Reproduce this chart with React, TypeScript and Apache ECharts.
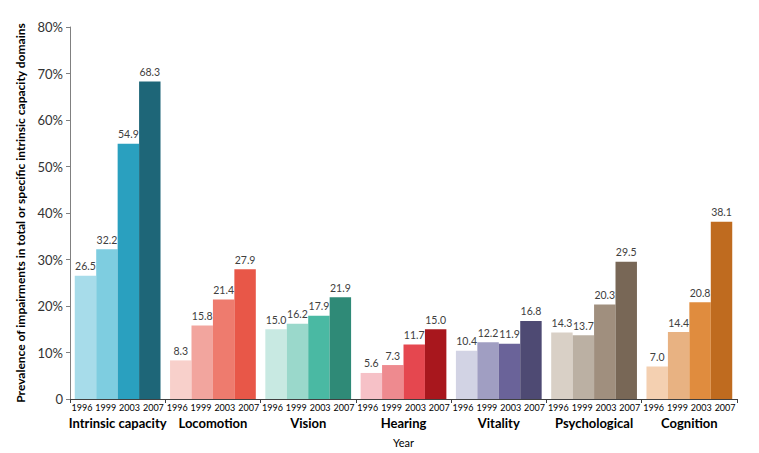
import React, { useEffect, useRef } from "react";
import * as echarts from "echarts";

const groups = ["Intrinsic capacity", "Locomotion", "Vision", "Hearing", "Vitality", "Psychological", "Cognition"];
const years = ["1996", "1999", "2003", "2007"];
const v1996 = [26.5, 8.3, 15.0, 5.6, 10.4, 14.3, 7.0];
const v1999 = [32.2, 15.8, 16.2, 7.3, 12.2, 13.7, 14.4];
const v2003 = [54.9, 21.4, 17.9, 11.7, 11.9, 20.3, 20.8];
const v2007 = [68.3, 27.9, 21.9, 15.0, 16.8, 29.5, 38.1];
const yTicks = [0, 10, 20, 30, 40, 50, 60, 70, 80];
const palette = [
  ["#a7dcea", "#7ecde0", "#2aa0bf", "#1e6678"],
  ["#f8d0cb", "#f2a59e", "#ee7b6e", "#e85748"],
  ["#c8e9e2", "#9ad8cb", "#4ab9a3", "#2f8a77"],
  ["#f6c1c7", "#ee8a8f", "#e5474f", "#a8171d"],
  ["#d2d3e4", "#a09ec2", "#6a6399", "#4e4a73"],
  ["#d9d0c6", "#bbb0a3", "#a08f7e", "#786756"],
  ["#f4d0b1", "#e8b282", "#e08c3e", "#bf6b1f"],
];

const FONT = "Lato";

export default function App() {
  const ref = useRef<HTMLDivElement>(null);
  useEffect(() => {
    document.body.style.margin = "0";
    if (!ref.current) return;
    const chart = echarts.init(ref.current, null, { renderer: "svg" });
    const all = [v1996, v1999, v2003, v2007];
    const yearCats: string[] = [];
    groups.forEach(() => years.forEach((y) => yearCats.push(y)));
    chart.setOption({
      animation: false,
      textStyle: { fontFamily: FONT },
      grid: { left: 70, right: 22, top: 27, bottom: 52 },
      xAxis: [
        {
          type: "category",
          data: groups,
          position: "bottom",
          axisLine: { lineStyle: { color: "#404040", width: 1 } },
          axisTick: { show: true, length: 4, lineStyle: { color: "#404040" } },
          axisLabel: { fontFamily: FONT, fontSize: 13, fontWeight: "bold", color: "#000", margin: 17, interval: 0 },
          name: "Year",
          nameLocation: "middle",
          nameGap: 38,
          nameTextStyle: { fontFamily: FONT, fontSize: 11, color: "#000" },
        },
        {
          type: "category",
          data: yearCats,
          position: "bottom",
          axisLine: { show: false },
          axisTick: { show: false },
          axisLabel: { fontFamily: FONT, fontSize: 9, color: "#000", margin: 4, interval: 0 },
        },
      ],
      yAxis: {
        type: "value",
        min: 0,
        max: 80,
        interval: 10,
        splitLine: { show: false },
        axisLine: { show: true, lineStyle: { color: "#808080" } },
        axisTick: { show: true, length: 4, lineStyle: { color: "#808080" } },
        axisLabel: {
          fontFamily: FONT,
          fontSize: 13,
          color: "#333",
          margin: 7,
          formatter: (v: number) => (yTicks.includes(v) ? (v === 0 ? "0" : v + "%") : ""),
        },
        name: "Prevalence of impairments in total or specific intrinsic capacity domains",
        nameLocation: "middle",
        nameGap: 42,
        nameTextStyle: { fontFamily: FONT, fontSize: 12, fontWeight: "bold", color: "#000" },
      },
      series: years.map((y, si) => ({
        name: y,
        type: "bar",
        xAxisIndex: 0,
        barGap: "0%",
        barCategoryGap: "10%",
        data: all[si].map((v, gi) => ({ value: v, itemStyle: { color: palette[gi][si] } })),
        label: {
          show: true,
          position: "top",
          distance: 4,
          fontFamily: FONT,
          fontSize: 10.5,
          color: "#404040",
          formatter: (p: any) => Number(p.value).toFixed(1),
        },
      })),
    });
    return () => chart.dispose();
  }, []);
  return <div ref={ref} style={{ width: 759, height: 453 }} />;
}
